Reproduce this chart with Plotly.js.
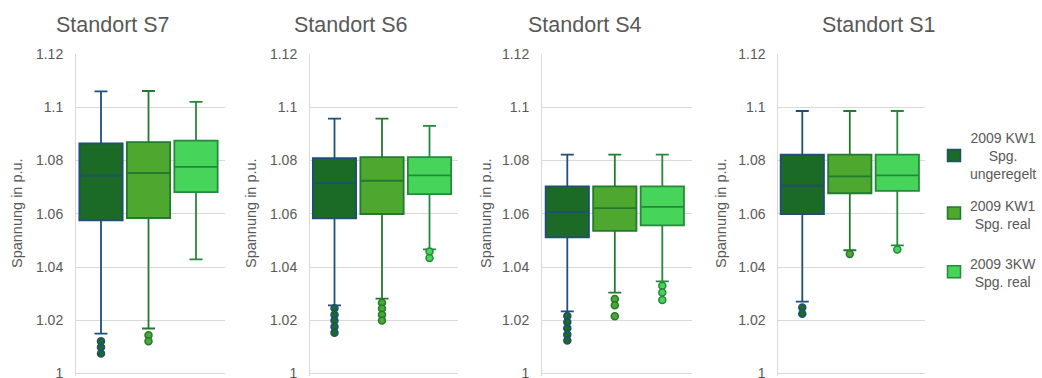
<!DOCTYPE html>
<html>
<head>
<meta charset="utf-8">
<script src="https://cdn.plot.ly/plotly-3.0.1.min.js"></script>
<style>
  html, body { margin: 0; padding: 0; background: #ffffff; }
  #chart { width: 1042px; height: 378px; }
</style>
</head>
<body>
<div id="chart"></div>
<script>
// Voltage distributions (p.u.) per site, three measurement series
const stations = ['Standort S7', 'Standort S6', 'Standort S4', 'Standort S1'];
const seriesNames = ['2009 KW1<br>Spg.<br>ungeregelt', '2009 KW1<br>Spg. real', '2009 3KW<br>Spg. real'];
const tickValues = [1, 1.02, 1.04, 1.06, 1.08, 1.1, 1.12];
const tickLabels = ['1', '1.02', '1.04', '1.06', '1.08', '1.1', '1.12'];
const yTitle = 'Spannung in p.u.';

// 2009 KW1 Spg. ungeregelt
const upperA  = [1.1060, 1.0957, 1.0822, 1.0986];
const q3A     = [1.0864, 1.0809, 1.0703, 1.0822];
const medianA = [1.0743, 1.0715, 1.0606, 1.0706];
const q1A     = [1.0575, 1.0583, 1.0511, 1.0599];
const lowerA  = [1.0150, 1.0256, 1.0233, 1.0270];
const outA    = [[1.0121, 1.0099, 1.0075], [1.0245, 1.0221, 1.0199, 1.0176, 1.0153],
                 [1.0216, 1.0193, 1.0170, 1.0146, 1.0124], [1.0248, 1.0224]];

// 2009 KW1 Spg. real
const upperB  = [1.1061, 1.0957, 1.0822, 1.0986];
const q3B     = [1.0869, 1.0813, 1.0703, 1.0822];
const medianB = [1.0753, 1.0724, 1.0621, 1.0740];
const q1B     = [1.0584, 1.0599, 1.0536, 1.0677];
const lowerB  = [1.0169, 1.0281, 1.0304, 1.0463];
const outB    = [[1.0144, 1.0121], [1.0266, 1.0244, 1.0221, 1.0199],
                 [1.0280, 1.0256, 1.0215], [1.0449]];

// 2009 3KW Spg. real
const upperC  = [1.1020, 1.0930, 1.0822, 1.0986];
const q3C     = [1.0875, 1.0813, 1.0703, 1.0822];
const medianC = [1.0776, 1.0744, 1.0626, 1.0744];
const q1C     = [1.0681, 1.0674, 1.0556, 1.0686];
const lowerC  = [1.0429, 1.0466, 1.0346, 1.0481];
const outC    = [[], [1.0458, 1.0434], [1.0330, 1.0304, 1.0276], [1.0466]];

const stats = [
  { upper: upperA, q3: q3A, med: medianA, q1: q1A, lower: lowerA, out: outA },
  { upper: upperB, q3: q3B, med: medianB, q1: q1B, lower: lowerB, out: outB },
  { upper: upperC, q3: q3C, med: medianC, q1: q1C, lower: lowerC, out: outC }
];

// styling
const fills = ['#1B6A26', '#4EA72E', '#47D45A'];
const lines = ['#1F4E79', '#217A30', '#26883A'];
const textColor = '#595959';
const gridColor = '#D9D9D9';
const fontFamily = 'Liberation Sans, Arial, sans-serif';

const W = 1042, H = 378;
// plot-area geometry in pixels
const panelLeft   = [76, 310, 542, 778.3];
const panelRight  = [225, 457.5, 691.7, 925];
const panelCenter = [148.5, 382, 614.8, 849.8];
const slotPx = 47.5;
const boxPx = 43.3;
// y = 1.12 sits at 54 px, y = 1.00 at 373.5 px; the axis runs a hair below 1
// so the bottom grid line at 1.00 is still drawn
const yMin = 0.9992, yMax = 1.12;
const pxPerUnit = (373.5 - 54) / 0.12;
const plotTop = 54, plotBottom = 373.5 + (1 - yMin) * pxPerUnit;
const titleX = [113, 351, 584.7, 878.8];
const yTitleX = [17, 251, 486, 721];

const data = [];
const layout = {
  width: W, height: H,
  margin: { l: 0, r: 0, t: 0, b: 0 },
  paper_bgcolor: '#ffffff',
  plot_bgcolor: '#ffffff',
  showlegend: false,
  font: { family: fontFamily, color: textColor, size: 14 },
  annotations: [],
  shapes: []
};

stations.forEach((name, p) => {
  const sfx = p === 0 ? '' : String(p + 1);
  const xa = 'x' + sfx, ya = 'y' + sfx;

  layout['xaxis' + sfx] = {
    domain: [panelLeft[p] / W, panelRight[p] / W],
    range: [(panelLeft[p] - panelCenter[p]) / slotPx, (panelRight[p] - panelCenter[p]) / slotPx],
    anchor: ya,
    showgrid: false, zeroline: false, showticklabels: false, ticks: '', showline: false,
    fixedrange: true
  };
  layout['yaxis' + sfx] = {
    domain: [(H - plotBottom) / H, (H - plotTop) / H],
    range: [yMin, yMax],
    anchor: xa,
    tickvals: tickValues, ticktext: tickLabels,
    ticks: '', ticklabelstandoff: 9,
    ticklabeloverflow: 'allow',
    tickfont: { family: fontFamily, size: 14, color: textColor },
    showgrid: true, gridcolor: gridColor, gridwidth: 1,
    zeroline: false,
    showline: true, linecolor: gridColor, linewidth: 1,
    fixedrange: true
  };

  stats.forEach((s, k) => {
    const pos = k - 1;
    data.push({
      type: 'box',
      xaxis: xa, yaxis: ya,
      x: [pos],
      q1: [s.q1[p]], median: [s.med[p]], q3: [s.q3[p]],
      lowerfence: [s.lower[p]], upperfence: [s.upper[p]],
      boxpoints: false,
      width: boxPx / slotPx,
      whiskerwidth: 0.3,
      fillcolor: fills[k],
      line: { color: lines[k], width: 1.8 },
      hoverinfo: 'y'
    });
    if (s.out[p].length) {
      data.push({
        type: 'scatter', mode: 'markers',
        xaxis: xa, yaxis: ya,
        x: s.out[p].map(() => pos),
        y: s.out[p],
        marker: { size: 7, color: fills[k], line: { color: lines[k], width: 1.5 } },
        hoverinfo: 'y'
      });
    }
  });

  // panel title
  layout.annotations.push({
    text: name, xref: 'paper', yref: 'paper',
    x: titleX[p] / W, y: (H - 25.5) / H,
    xanchor: 'center', yanchor: 'middle', showarrow: false,
    font: { family: fontFamily, size: 21.5, color: textColor }
  });
  // y axis title
  layout.annotations.push({
    text: yTitle, xref: 'paper', yref: 'paper',
    x: yTitleX[p] / W, y: (H - 213) / H,
    xanchor: 'center', yanchor: 'middle', showarrow: false, textangle: -90,
    font: { family: fontFamily, size: 14.5, color: textColor }
  });
});

// legend: coloured squares with centred multi-line labels
const legendTextY = [156, 215, 272.8];
const legendBoxY = [155.5, 213, 271.7];
seriesNames.forEach((label, k) => {
  layout.shapes.push({
    type: 'rect', xref: 'paper', yref: 'paper',
    x0: 947.5 / W, x1: 960.5 / W,
    y0: (H - legendBoxY[k] - 6) / H, y1: (H - legendBoxY[k] + 6) / H,
    fillcolor: fills[k], line: { color: lines[k], width: 1.5 }
  });
  layout.annotations.push({
    text: label, xref: 'paper', yref: 'paper',
    x: 1003 / W, y: (H - legendTextY[k]) / H,
    xanchor: 'center', yanchor: 'middle', align: 'center', showarrow: false,
    font: { family: fontFamily, size: 14, color: textColor }
  });
});

Plotly.newPlot('chart', data, layout, { displayModeBar: false, staticPlot: true });
</script>
</body>
</html>
